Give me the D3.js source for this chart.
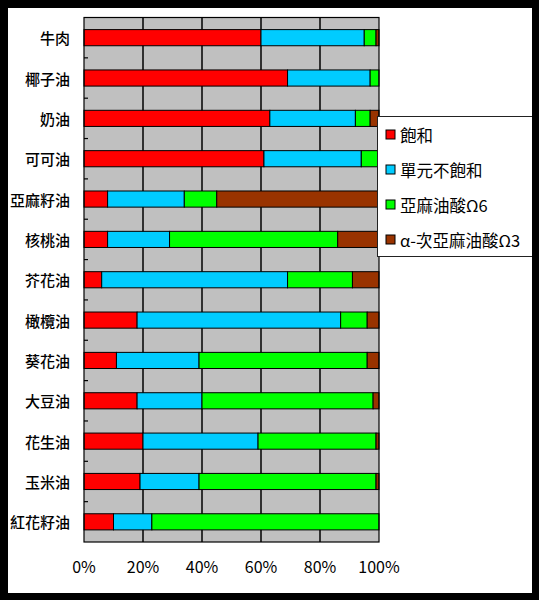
<!DOCTYPE html>
<html>
<head>
<meta charset="utf-8">
<script src="https://cdn.jsdelivr.net/npm/d3@7"></script>
<style>
  html, body { margin: 0; padding: 0; background: #000; }
  svg { display: block; }
  text { font-family: "Noto Sans CJK TC", "Noto Sans", sans-serif; }
</style>
</head>
<body>
<svg id="chart" width="539" height="600"></svg>
<script>
const categories = ["牛肉","椰子油","奶油","可可油","亞麻籽油","核桃油","芥花油","橄欖油","葵花油","大豆油","花生油","玉米油","紅花籽油"];
const seriesNames = ["飽和","單元不飽和","亞麻油酸Ω6","α-次亞麻油酸Ω3"];
const saturated   = [60, 69, 63, 61,  8,  8,  6, 18, 11, 18, 20, 19, 10];
const monounsat   = [35, 28, 29, 33, 26, 21, 63, 69, 28, 22, 39, 20, 13];
const omega6      = [ 4,  3,  5,  6, 11, 57, 22,  9, 57, 58, 40, 60, 77];
const omega3      = [ 1,  0,  3,  0, 55, 14,  9,  4,  4,  2,  1,  1,  0];
const colors      = ["#FF0000", "#00CCFF", "#00FF00", "#993300"];
const xTicks      = [0, 20, 40, 60, 80, 100];

(function () {
const svg = d3.select("#chart");
svg.append("rect").attr("x", 0).attr("y", 0).attr("width", 539).attr("height", 600).attr("fill", "#000");
svg.append("rect").attr("x", 8).attr("y", 8).attr("width", 524).attr("height", 585).attr("fill", "#fff");

const pL = 84, pR = 379, pT = 17.5, pB = 542;
const x = d3.scaleLinear().domain([0, 100]).range([pL, pR]);
const y = d3.scaleBand().domain(categories).range([pT, pB]).paddingInner(0.6).paddingOuter(0.3);

svg.append("rect").attr("x", pL).attr("y", pT).attr("width", pR - pL).attr("height", pB - pT)
  .attr("fill", "#C0C0C0");

svg.append("g").selectAll("line").data(xTicks.slice(1, -1)).join("line")
  .attr("x1", d => x(d)).attr("x2", d => x(d)).attr("y1", pT).attr("y2", pB)
  .attr("stroke", "#000").attr("stroke-width", 1.5);

const rows = categories.map((c, i) => ({cat: c, s0: saturated[i], s1: monounsat[i], s2: omega6[i], s3: omega3[i]}));
const stacked = d3.stack().keys(["s0","s1","s2","s3"])(rows);

svg.append("g").selectAll("g").data(stacked).join("g")
  .attr("fill", (d, i) => colors[i])
  .selectAll("rect").data(d => d.filter(p => p[1] - p[0] > 0)).join("rect")
  .attr("x", d => x(d[0]))
  .attr("y", d => y(d.data.cat))
  .attr("width", d => x(d[1]) - x(d[0]))
  .attr("height", y.bandwidth())
  .attr("stroke", "#000").attr("stroke-width", 1);

svg.append("rect").attr("x", pL).attr("y", pT).attr("width", pR - pL).attr("height", pB - pT)
  .attr("fill", "none").attr("stroke", "#000").attr("stroke-width", 1.2);

const step = y.step();
const boundaries = categories.slice(1).map(c => y(c) - (step - y.bandwidth()) / 2);
svg.append("g").selectAll("line").data(boundaries).join("line")
  .attr("x1", pL).attr("x2", pL + 4).attr("y1", d => d).attr("y2", d => d)
  .attr("stroke", "#000").attr("stroke-width", 1.2);

svg.append("g").selectAll("text").data(categories).join("text")
  .attr("x", 70).attr("y", d => y(d) + y.bandwidth() / 2)
  .attr("text-anchor", "end").attr("dominant-baseline", "central")
  .attr("font-size", 15).attr("font-weight", 500).attr("fill", "#000")
  .text(d => d);

svg.append("g").selectAll("text").data(xTicks).join("text")
  .attr("x", d => x(d)).attr("y", 566)
  .attr("text-anchor", "middle").attr("dominant-baseline", "central")
  .attr("font-size", 16).attr("fill", "#000")
  .text(d => d + "%");

const lg = svg.append("g");
lg.append("rect").attr("x", 377.5).attr("y", 116.5).attr("width", 170).attr("height", 140)
  .attr("fill", "#fff").attr("stroke", "#222").attr("stroke-width", 1);
const items = lg.selectAll("g").data(seriesNames).join("g")
  .attr("transform", (d, i) => `translate(386, ${134.5 + i * 35})`);
items.append("rect").attr("x", 0).attr("y", -4.5).attr("width", 9).attr("height", 9)
  .attr("fill", (d, i) => colors[i]).attr("stroke", "#000").attr("stroke-width", 1);
items.append("text").attr("x", 14).attr("y", 0).attr("dominant-baseline", "central")
  .attr("font-size", 16.5).attr("fill", "#000").text(d => d);

svg.append("rect").attr("x", 532).attr("y", 0).attr("width", 7).attr("height", 600).attr("fill", "#000");
})();
</script>
</body>
</html>
